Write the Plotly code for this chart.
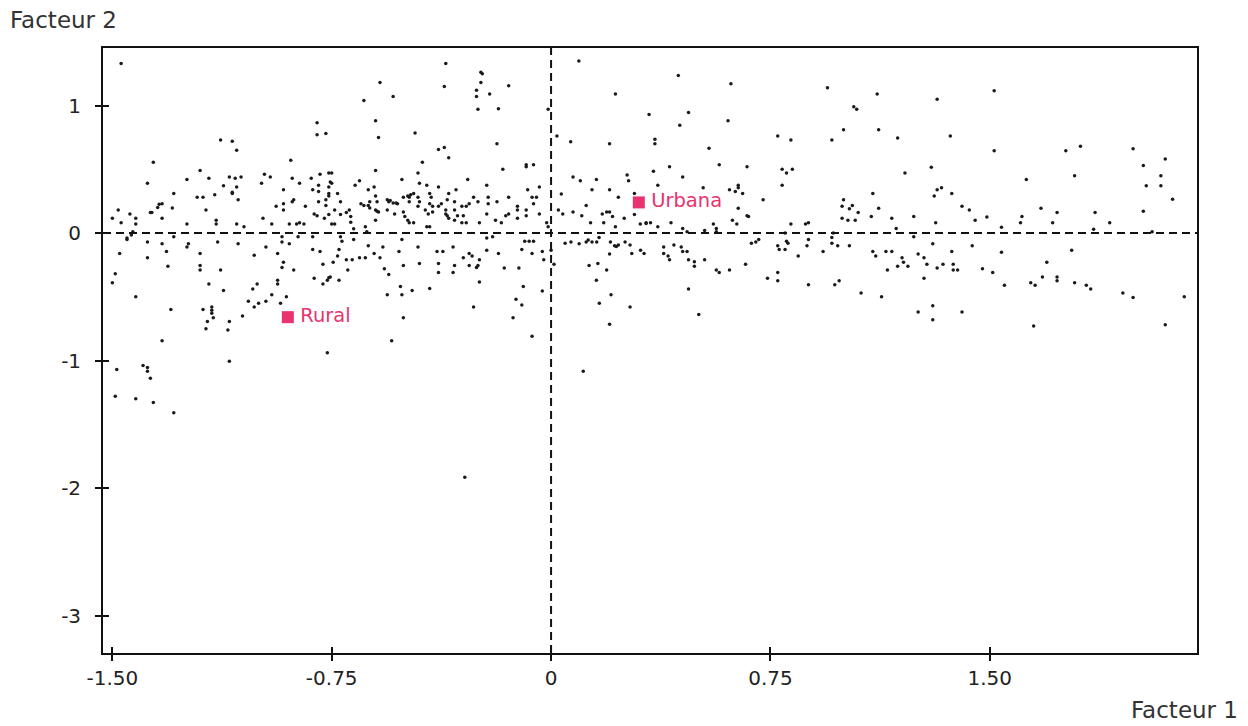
import plotly.graph_objects as go

# ---- Data: coordinates of individuals on factorial plane (Facteur 1, Facteur 2) ----
pts_upper_left = [
    (-1.47, 1.33), (-0.64, 1.04), (-0.585, 1.18), (-0.60, 0.88), (-0.59, 0.75), (-0.80, 0.865), (-0.80, 0.77), (-0.77, 0.78), (-1.13, 0.73), (-1.09, 0.72),
    (-1.075, 0.65), (-1.36, 0.555), (-0.89, 0.57), (-0.60, 0.49), (-1.38, 0.39), (-1.20, 0.49), (-1.245, 0.42), (-1.17, 0.43), (-1.10, 0.44), (-1.08, 0.43),
    (-1.06, 0.44), (-1.12, 0.37), (-1.075, 0.36), (-1.09, 0.32), (-1.09, 0.31), (-1.07, 0.26), (-1.21, 0.28), (-1.19, 0.28), (-1.15, 0.30), (-1.29, 0.31),
    (-1.33, 0.23), (-1.34, 0.225), (-1.345, 0.20), (-1.37, 0.16), (-1.365, 0.16), (-1.295, 0.196), (-1.48, 0.18), (-1.44, 0.15), (-1.50, 0.115), (-1.47, 0.08),
    (-1.42, 0.115), (-1.42, 0.07), (-1.33, 0.115), (-1.18, 0.18), (-1.245, 0.07), (-1.145, 0.10), (-1.145, 0.07), (-1.075, 0.07), (-1.05, 0.05), (-0.99, 0.39),
    (-0.98, 0.46), (-0.96, 0.44), (-0.985, 0.115), (-0.955, 0.07), (-0.94, 0.21), (-0.915, 0.34), (-0.915, 0.23), (-0.915, 0.18), (-0.885, 0.43), (-0.88, 0.26),
    (-0.885, 0.245), (-0.86, 0.39), (-0.84, 0.21), (-0.895, 0.07), (-0.87, 0.07), (-0.86, 0.08), (-0.845, 0.07), (-0.82, 0.43), (-0.815, 0.34), (-0.79, 0.46),
    (-0.795, 0.375), (-0.795, 0.325), (-0.795, 0.245), (-0.81, 0.15), (-0.80, 0.135), (-0.76, 0.47), (-0.75, 0.47), (-0.755, 0.40), (-0.75, 0.39), (-0.76, 0.36),
    (-0.76, 0.31), (-0.76, 0.29), (-0.77, 0.26), (-0.77, 0.215), (-0.73, 0.31), (-0.72, 0.245), (-0.74, 0.18), (-0.76, 0.145), (-0.72, 0.145), (-0.775, 0.115),
    (-0.75, 0.07), (-0.74, 0.07), (-0.70, 0.16), (-0.69, 0.18), (-0.685, 0.13), (-0.685, 0.085), (-0.67, 0.375), (-0.655, 0.41), (-0.65, 0.23), (-0.64, 0.215),
    (-0.625, 0.215), (-0.62, 0.196), (-0.625, 0.34), (-0.605, 0.36), (-0.595, 0.245), (-0.595, 0.17), (-0.60, 0.10), (-0.635, 0.05), (-0.675, 0.034), (-0.63, 0.01),
    (-1.435, -0.015), (-1.45, -0.04), (-1.43, 0.01),
]

pts_upper_centre = [
    (-0.54, 1.07), (-0.36, 1.33), (-0.365, 1.15), (-0.24, 1.26), (-0.235, 1.25), (-0.24, 1.18), (-0.255, 1.12), (-0.255, 1.07), (-0.21, 1.09), (-0.145, 1.155),
    (-0.25, 0.97), (-0.18, 0.975), (-0.01, 0.97), (0.095, 1.35), (0.22, 1.09), (0.335, 0.93), (-0.465, 0.785), (-0.385, 0.655), (-0.365, 0.67), (-0.35, 0.59),
    (-0.185, 0.70), (0.02, 0.76), (0.067, 0.715), (0.20, 0.70), (-0.44, 0.555), (-0.455, 0.47), (-0.165, 0.50), (-0.085, 0.535), (-0.085, 0.52), (-0.06, 0.535),
    (-0.51, 0.42), (-0.285, 0.42), (-0.45, 0.39), (-0.425, 0.375), (-0.385, 0.36), (-0.325, 0.34), (-0.22, 0.375), (-0.08, 0.34), (-0.04, 0.36), (0.075, 0.44),
    (0.10, 0.41), (0.155, 0.42), (0.14, 0.34), (0.20, 0.34), (0.26, 0.455), (0.265, 0.41), (0.285, 0.31), (0.23, 0.28),
]

pts_dense_centre = [
    (-0.60, 0.29), (-0.62, 0.245), (-0.56, 0.26), (-0.555, 0.245), (-0.55, 0.255), (-0.54, 0.235), (-0.53, 0.235), (-0.525, 0.23), (-0.505, 0.28), (-0.49, 0.29),
    (-0.485, 0.28), (-0.48, 0.30), (-0.47, 0.31), (-0.485, 0.245), (-0.455, 0.28), (-0.45, 0.245), (-0.455, 0.21), (-0.415, 0.31), (-0.41, 0.28), (-0.415, 0.23),
    (-0.405, 0.21), (-0.385, 0.21), (-0.375, 0.23), (-0.355, 0.26), (-0.35, 0.31), (-0.33, 0.245), (-0.305, 0.21), (-0.29, 0.21), (-0.28, 0.23), (-0.265, 0.28),
    (-0.25, 0.245), (-0.215, 0.28), (-0.215, 0.23), (-0.185, 0.245), (-0.145, 0.28), (-0.115, 0.21), (-0.065, 0.28), (-0.05, 0.28), (-0.06, 0.23), (-0.085, 0.18),
    (-0.60, 0.18), (-0.59, 0.165), (-0.56, 0.18), (-0.535, 0.15), (-0.505, 0.165), (-0.50, 0.13), (-0.49, 0.10), (-0.47, 0.08), (-0.485, 0.08), (-0.43, 0.18),
    (-0.42, 0.15), (-0.405, 0.165), (-0.36, 0.18), (-0.36, 0.15), (-0.355, 0.135), (-0.35, 0.115), (-0.33, 0.18), (-0.32, 0.135), (-0.30, 0.135), (-0.29, 0.08),
    (-0.305, 0.08), (-0.33, 0.10), (-0.425, 0.05), (-0.415, 0.05), (-0.245, 0.08), (-0.22, 0.15), (-0.19, 0.10), (-0.17, 0.08), (-0.155, 0.135), (-0.145, 0.15),
    (-0.115, 0.18), (-0.115, 0.115), (-0.085, 0.135), (-0.04, 0.15), (-0.015, 0.08), (-0.01, 0.05), (0.035, 0.305), (0.025, 0.18), (0.04, 0.15), (0.075, 0.165),
    (0.105, 0.135), (0.12, 0.215), (0.135, 0.08), (0.175, 0.15), (0.19, 0.165), (0.20, 0.165), (0.21, 0.13), (0.18, 0.08), (0.22, 0.05), (0.25, 0.115),
    (0.285, 0.145), (0.305, 0.07), (0.325, 0.08),
]

pts_upper_right = [
    (0.435, 1.235), (0.615, 1.17), (0.945, 1.14), (1.115, 1.09), (1.035, 0.99), (1.045, 0.97), (0.47, 0.945), (0.44, 0.845), (0.605, 0.88), (0.775, 0.76),
    (0.82, 0.73), (0.96, 0.73), (1.00, 0.81), (1.12, 0.81), (1.185, 0.745), (0.355, 0.735), (0.355, 0.70), (0.54, 0.665), (0.35, 0.485), (0.405, 0.52),
    (0.575, 0.535), (0.67, 0.52), (0.79, 0.50), (0.805, 0.47), (0.825, 0.50), (1.21, 0.47), (0.365, 0.375), (0.45, 0.44), (0.52, 0.355), (0.61, 0.34),
    (0.63, 0.325), (0.64, 0.355), (0.64, 0.375), (0.655, 0.31), (0.79, 0.375), (0.725, 0.26), (0.64, 0.195), (0.67, 0.135), (0.675, 0.13), (0.62, 0.10),
    (0.635, 0.07), (0.41, 0.08), (0.325, 0.075), (0.34, 0.08), (0.365, 0.05), (0.555, 0.07), (0.565, 0.035), (0.82, 0.07), (0.87, 0.07), (0.88, 0.08),
    (1.00, 0.26), (0.995, 0.21), (1.02, 0.19), (1.03, 0.215), (1.05, 0.16), (0.995, 0.115), (1.015, 0.10), (1.04, 0.10), (1.095, 0.13), (1.10, 0.31),
    (1.12, 0.195), (1.165, 0.115), (1.24, 0.13), (0.45, 0.035), (0.465, 0.01), (0.525, 0.02), (0.565, 0.01), (0.80, 0.0), (0.965, 0.0), (1.18, 0.035),
]

pts_upper_far_right = [
    (1.515, 1.115), (1.32, 1.05), (1.365, 0.76), (1.515, 0.645), (1.30, 0.515), (1.76, 0.645), (1.81, 0.68), (1.99, 0.66), (2.025, 0.53), (2.10, 0.58),
    (2.085, 0.45), (2.085, 0.37), (2.035, 0.37), (2.125, 0.265), (2.025, 0.17), (1.79, 0.45), (1.625, 0.42), (1.31, 0.29), (1.32, 0.34), (1.335, 0.355),
    (1.37, 0.31), (1.405, 0.21), (1.43, 0.18), (1.45, 0.10), (1.49, 0.125), (1.54, 0.045), (1.605, 0.08), (1.61, 0.13), (1.675, 0.195), (1.715, 0.08),
    (1.73, 0.16), (1.86, 0.16), (1.855, 0.03), (1.91, 0.08), (1.315, 0.08), (2.055, 0.01),
]

pts_lower_left = [
    (-1.475, -0.16), (-1.49, -0.32), (-1.50, -0.39), (-1.42, -0.50), (-1.38, -0.195), (-1.38, -0.07), (-1.33, -0.085), (-1.315, -0.145), (-1.31, -0.26), (-1.30, -0.60),
    (-1.33, -0.845), (-1.24, -0.085), (-1.245, -0.11), (-1.20, -0.16), (-1.20, -0.255), (-1.20, -0.29), (-1.17, -0.40), (-1.19, -0.60), (-1.16, -0.58), (-1.16, -0.605),
    (-1.16, -0.63), (-1.155, -0.665), (-1.175, -0.695), (-1.18, -0.75), (-1.14, -0.07), (-1.13, -0.29), (-1.12, -0.45), (-1.10, -0.695), (-1.105, -0.76), (-1.10, -1.005),
    (-1.07, -0.085), (-1.055, -0.65), (-1.035, -0.535), (-1.015, -0.58), (-1.00, -0.55), (-0.975, -0.535), (-0.955, -0.485), (-0.925, -0.55), (-0.905, -0.50), (-1.02, -0.44),
    (-1.005, -0.40), (-1.015, -0.175), (-0.975, -0.11), (-0.935, -0.16), (-0.935, -0.37), (-0.935, -0.40), (-0.92, -0.27), (-0.915, -0.23), (-0.895, -0.085), (-0.92, -0.07),
    (-0.88, -0.29), (-0.815, -0.13), (-0.79, -0.145), (-0.81, -0.355), (-0.78, -0.245), (-0.78, -0.40), (-0.765, -0.37), (-0.76, -0.35), (-0.755, -0.345), (-0.725, -0.37),
    (-0.765, -0.94), (-0.745, -0.23), (-0.73, -0.18), (-0.725, -0.13), (-0.715, -0.065), (-0.695, -0.29), (-0.70, -0.21), (-0.68, -0.21), (-0.655, -0.195), (-0.635, -0.195),
    (-0.605, -0.16), (-0.625, -0.10), (-1.485, -1.07), (-1.49, -1.28), (-1.42, -1.30), (-1.395, -1.04), (-1.38, -1.055), (-1.38, -1.085), (-1.37, -1.14), (-1.36, -1.33),
    (-1.29, -1.41), (-1.45, -0.05), (-1.29, -0.03), (-0.92, -0.03), (-0.865, -0.03), (-0.815, -0.03), (-0.72, -0.03), (-0.675, -0.05),
]

pts_lower_centre = [
    (-0.585, -0.195), (-0.575, -0.11), (-0.57, -0.28), (-0.555, -0.325), (-0.56, -0.485), (-0.545, -0.845), (-0.52, -0.145), (-0.51, -0.05), (-0.505, -0.255), (-0.515, -0.42),
    (-0.51, -0.485), (-0.505, -0.665), (-0.475, -0.45), (-0.455, -0.11), (-0.45, -0.24), (-0.415, -0.435), (-0.39, -0.145), (-0.37, -0.145), (-0.385, -0.24), (-0.385, -0.31),
    (-0.335, -0.11), (-0.33, -0.255), (-0.335, -0.31), (-0.30, -0.195), (-0.28, -0.16), (-0.27, -0.18), (-0.28, -0.255), (-0.255, -0.27), (-0.25, -0.255), (-0.245, -0.21),
    (-0.245, -0.385), (-0.265, -0.58), (-0.22, -0.135), (-0.22, -0.04), (-0.20, -0.03), (-0.18, -0.16), (-0.16, -0.275), (-0.11, -0.275), (-0.10, -0.13), (-0.095, -0.42),
    (-0.12, -0.52), (-0.10, -0.565), (-0.13, -0.665), (-0.065, -0.81), (-0.09, -0.065), (-0.075, -0.065), (-0.06, -0.065), (-0.065, -0.16), (-0.03, -0.145), (-0.025, -0.21),
    (-0.03, -0.455), (0.0, -0.135), (0.01, -0.245), (0.11, -1.085), (0.048, -0.08), (0.068, -0.07), (0.096, -0.085), (0.12, -0.07), (0.127, -0.055), (0.14, -0.07),
    (0.156, -0.07), (0.164, -0.035), (0.203, -0.07), (0.217, -0.10), (0.223, -0.105), (0.23, -0.095), (0.253, -0.07), (0.27, -0.095), (0.276, -0.16), (0.306, -0.135),
    (0.318, -0.16), (0.13, -0.255), (0.16, -0.24), (0.19, -0.29), (0.155, -0.37), (0.165, -0.55), (0.205, -0.485), (0.20, -0.715), (0.20, -0.165), (0.27, -0.58),
    (-0.295, -1.915),
]

pts_lower_right = [
    (0.385, -0.11), (0.385, -0.16), (0.40, -0.18), (0.405, -0.21), (0.42, -0.095), (0.445, -0.11), (0.45, -0.145), (0.465, -0.145), (0.47, -0.21), (0.49, -0.225),
    (0.49, -0.26), (0.525, -0.21), (0.47, -0.44), (0.505, -0.64), (0.565, -0.29), (0.575, -0.31), (0.61, -0.29), (0.665, -0.245), (0.685, -0.08), (0.70, -0.07),
    (0.71, -0.05), (0.74, -0.355), (0.775, -0.31), (0.775, -0.375), (0.775, -0.10), (0.78, -0.13), (0.80, -0.13), (0.805, -0.065), (0.81, -0.08), (0.845, -0.18),
    (0.875, -0.10), (0.88, -0.05), (0.88, -0.405), (0.93, -0.145), (0.96, -0.08), (0.96, -0.035), (0.98, -0.10), (0.97, -0.405), (0.985, -0.375), (1.02, -0.10),
    (1.06, -0.47), (1.10, -0.145), (1.11, -0.18), (1.145, -0.145), (1.15, -0.29), (1.165, -0.145), (1.13, -0.50), (1.185, -0.26), (1.20, -0.195), (1.205, -0.23),
    (1.22, -0.26), (1.255, -0.165), (1.255, -0.62),
]

pts_lower_far_right = [
    (1.24, -0.03), (1.275, -0.195), (1.285, -0.245), (1.275, -0.355), (1.305, -0.085), (1.32, -0.275), (1.34, -0.245), (1.37, -0.145), (1.375, -0.245), (1.375, -0.29),
    (1.39, -0.29), (1.305, -0.57), (1.305, -0.68), (1.405, -0.62), (1.44, -0.10), (1.475, -0.28), (1.51, -0.31), (1.54, -0.15), (1.55, -0.41), (1.64, -0.39),
    (1.655, -0.41), (1.65, -0.73), (1.68, -0.345), (1.695, -0.23), (1.73, -0.345), (1.73, -0.375), (1.78, -0.135), (1.79, -0.39), (1.83, -0.41), (1.845, -0.44),
    (1.955, -0.47), (1.99, -0.505), (2.10, -0.72), (2.165, -0.50),
]

# Supplementary categories
cat_names = ["Urbana", "Rural"]
cat_f1 = [0.30, -0.90]
cat_f2 = [0.24, -0.66]

# Axis ticks
x_tickvals = [-1.5, -0.75, 0, 0.75, 1.5]
x_ticktext = ["-1.50", "-0.75", "0", "0.75", "1.50"]
y_tickvals = [-3, -2, -1, 0, 1]
y_ticktext = ["-3", "-2", "-1", "0", "1"]
x_range = [-1.532, 2.2085]
y_range = [-3.294, 1.451]

groups = [pts_upper_left, pts_upper_centre, pts_dense_centre, pts_upper_right,
          pts_upper_far_right, pts_lower_left, pts_lower_centre, pts_lower_right,
          pts_lower_far_right]
f1 = [p[0] for g in groups for p in g]
f2 = [p[1] for g in groups for p in g]

FONT = "DejaVu Sans"
PINK = "#e8336e"

fig = go.Figure()

fig.add_trace(go.Scatter(
    x=f1, y=f2, mode="markers",
    marker=dict(size=3.5, color="#1a1a1a", symbol="circle", line=dict(width=0)),
    hoverinfo="skip", showlegend=False,
))

fig.add_trace(go.Scatter(
    x=cat_f1, y=cat_f2, mode="markers+text",
    text=["\u2009" + n for n in cat_names], textposition="middle right",
    textfont=dict(family=FONT, size=19.5, color=PINK),
    marker=dict(size=12, color=PINK, symbol="square", line=dict(width=0)),
    hoverinfo="skip", showlegend=False,
))

# invisible trace on overlay axes (for inward tick marks)
fig.add_trace(go.Scatter(x=[0], y=[0], xaxis="x2", yaxis="y2", mode="markers",
                         marker=dict(opacity=0), hoverinfo="skip", showlegend=False))

# dashed axes through origin
fig.add_shape(type="line", xref="x", yref="y", x0=0, x1=0, y0=y_range[0], y1=y_range[1],
              line=dict(color="#111111", width=2, dash="8px,5px"))
fig.add_shape(type="line", xref="x", yref="y", x0=x_range[0], x1=x_range[1], y0=0, y1=0,
              line=dict(color="#111111", width=2, dash="8px,5px"))

axis_common = dict(showgrid=False, zeroline=False, ticklen=6, tickwidth=1.5, tickcolor="#111111")

fig.update_layout(
    width=1248, height=726,
    margin=dict(l=103, r=51, t=48, b=73),
    paper_bgcolor="white", plot_bgcolor="white",
    xaxis=dict(range=x_range, tickvals=x_tickvals, ticktext=x_ticktext, ticks="outside",
               showline=True, mirror=True, linecolor="#111111", linewidth=1.8,
               tickfont=dict(family=FONT, size=20, color="#222222"), **axis_common),
    yaxis=dict(range=y_range, tickvals=y_tickvals, ticktext=y_ticktext, ticks="outside",
               showline=True, mirror=True, linecolor="#111111", linewidth=1.8,
               tickfont=dict(family=FONT, size=20, color="#222222"), ticklabelstandoff=10,
               **axis_common),
    xaxis2=dict(range=x_range, tickvals=x_tickvals, ticks="inside", overlaying="x", side="bottom",
                showticklabels=False, showline=False, **axis_common),
    yaxis2=dict(range=y_range, tickvals=y_tickvals, ticks="inside", overlaying="y", side="left",
                showticklabels=False, showline=False, **axis_common),
    annotations=[
        dict(text="Facteur 2", xref="paper", yref="paper", x=-0.0868, y=1.046,
             xanchor="left", yanchor="middle", showarrow=False,
             font=dict(family=FONT, size=23, color="#333333")),
        dict(text="Facteur 1", xref="paper", yref="paper", x=1.0393, y=-0.094,
             xanchor="right", yanchor="middle", showarrow=False,
             font=dict(family=FONT, size=23, color="#333333")),
    ],
)

fig.write_html("out.html")
